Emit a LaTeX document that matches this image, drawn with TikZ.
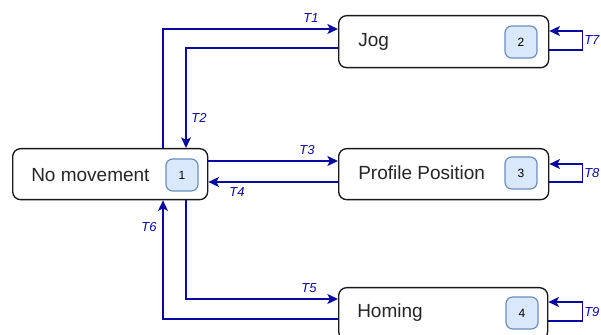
\documentclass[tikz,border=0pt]{standalone}
\usepackage{fontspec}
\setmainfont{Liberation Sans}
\usetikzlibrary{calc,arrows.meta}
\definecolor{linkblue}{RGB}{10,10,160}
\definecolor{badgefill}{HTML}{DAE8FC}
\definecolor{badgeline}{HTML}{6C8EBF}
\tikzset{
  statebox/.style={draw=black!90, line width=1pt, rounded corners=6pt, fill=white,
    inner sep=0pt, anchor=north west},
  statetext/.style={font=\fontsize{14.25}{17}\selectfont, anchor=west, inner sep=0pt, text=black!85},
  badge/.style={draw=badgeline, fill=badgefill, line width=0.9pt, rounded corners=5pt,
    minimum width=24pt, minimum height=24pt, inner sep=0pt, font=\fontsize{9}{10}\selectfont},
  link/.style={draw=linkblue, line width=1.1pt, -{Stealth[length=8pt,width=7.5pt,inset=2pt]}},
  tlabel/.style={font=\fontsize{9.75}{11}\selectfont\itshape, text=linkblue, inner sep=0pt}
}
\begin{document}
\begin{tikzpicture}[x=0.75pt,y=-0.75pt]
\useasboundingbox (0,0) rectangle (601,335);
% state boxes
\node[statebox, minimum width=146.25pt, minimum height=38.25pt] (nm) at (12,148) {};
\node[statebox, minimum width=157.5pt, minimum height=39pt] (jog) at (338,15) {};
\node[statebox, minimum width=157.5pt, minimum height=38.25pt] (pp) at (338,148) {};
\node[statebox, minimum width=156.75pt, minimum height=39pt] (hom) at (338,287) {};
% texts
\node[statetext] (tnm) at (31,175) {No movement};
\node[statetext] (tjog) at (358,42) {Jog};
\node[statetext] (tpp) at (358,173) {Profile Position};
\node[statetext] (thom) at (357,313) {Homing};
% badges
\node[badge] (b1) at (182,175) {1};
\node[badge] (b2) at (521,42) {2};
\node[badge] (b3) at (521,173) {3};
\node[badge] (b4) at (522,313) {4};
% connectors
\draw[link] ($(nm.north west)+(151,0)$) |- ($(jog.north west)+(0,14)$);
\draw[link] ($(jog.north west)+(0,33)$) -| ($(nm.north west)+(174,0)$);
\draw[link] ($(nm.north east)+(0,13)$) -- ($(pp.north west)+(0,13)$);
\draw[link] ($(pp.north west)+(0,34)$) -- ($(nm.north east)+(0,34)$);
\draw[link] ($(nm.south west)+(174,0)$) |- ($(hom.north west)+(0,12)$);
\draw[link] ($(hom.north west)+(0,32)$) -| ($(nm.south west)+(151,0)$);
\draw[link] ($(jog.north east)+(0,35)$) -- ++(33,0) |- ($(jog.north east)+(0,16)$);
\draw[link] ($(pp.north east)+(0,34)$) -- ++(33,0) |- ($(pp.north east)+(0,16)$);
\draw[link] ($(hom.north east)+(0,34)$) -- ++(34,0) |- ($(hom.north east)+(0,15)$);
% labels
\node[tlabel] (l1) at (311,18) {T1};
\node[tlabel] (l2) at (199,118) {T2};
\node[tlabel] (l3) at (307,150) {T3};
\node[tlabel] (l4) at (237,192) {T4};
\node[tlabel] (l5) at (309,288) {T5};
\node[tlabel] (l6) at (149,227) {T6};
\node[tlabel, anchor=west] (l7) at (584,40) {T7};
\node[tlabel, anchor=west] (l8) at (584,173) {T8};
\node[tlabel, anchor=west] (l9) at (584,312) {T9};
\end{tikzpicture}
\end{document}
